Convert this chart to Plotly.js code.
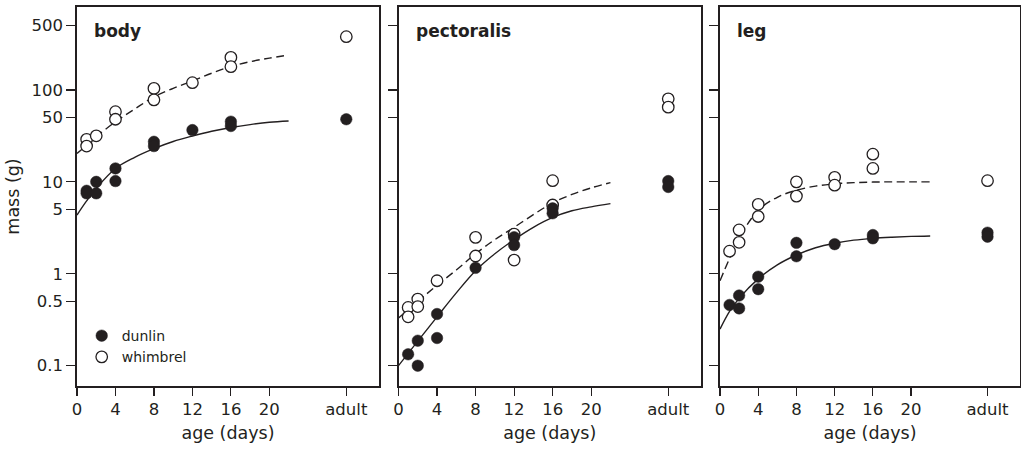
<!DOCTYPE html>
<html>
<head>
<meta charset="utf-8">
<script src="https://cdn.plot.ly/plotly-3.0.1.min.js"></script>
<style>html,body{margin:0;padding:0;background:#fff;}#chart{width:1021px;height:449px;}</style>
</head>
<body>
<div id="chart"></div>
<script>
// ---- data ----
const ADULT = 28; // position of the "adult" column on the age axis
const xTickVals = [0, 4, 8, 12, 16, 20, ADULT];
const xTickText = ['0', '4', '8', '12', '16', '20', 'adult'];
const yTickVals = [0.1, 0.5, 1, 5, 10, 50, 100, 500];
const yTickText = ['0.1', '0.5', '1', '5', '10', '50', '100', '500'];
const panelNames = ['body', 'pectoralis', 'leg'];

// body
const bodyDunlinX = [1, 1, 2, 2, 4, 4, 8, 8, 12, 16, 16, ADULT];
const bodyDunlinY = [8.0, 7.5, 10.0, 7.5, 14.0, 10.2, 27.3, 24.5, 36.6, 45.2, 40.5, 48];
const bodyWhimX = [1, 1, 2, 4, 4, 8, 8, 12, 16, 16, ADULT];
const bodyWhimY = [29, 24.5, 31.7, 58, 48, 104, 78, 120, 226, 179, 380];
const bodyFitDays = [0, 1, 2, 4, 6, 8, 10, 12, 14, 16, 18, 20, 22];
const bodyDunlinFit = [4.36, 6.2, 8.5, 14, 18.5, 23, 27.5, 31.5, 35.5, 39, 42, 44.5, 46];
const bodyWhimFit = [20.4, 25, 31, 45, 62, 84, 104, 125, 152, 180, 203, 222, 240];

// pectoralis
const pectDunlinX = [1, 2, 2, 4, 4, 8, 12, 12, 16, 16, ADULT, ADULT];
const pectDunlinY = [0.133, 0.187, 0.10, 0.365, 0.20, 1.16, 2.5, 2.05, 5.15, 4.55, 10.2, 8.8];
const pectWhimX = [1, 1, 2, 2, 4, 8, 8, 12, 12, 16, 16, ADULT, ADULT];
const pectWhimY = [0.43, 0.34, 0.53, 0.44, 0.84, 2.49, 1.56, 2.7, 1.41, 10.3, 5.6, 80, 65];
const pectFitDays = [0, 2, 4, 6, 8, 10, 12, 14, 16, 18, 20, 22];
const pectDunlinFit = [0.10, 0.185, 0.34, 0.62, 1.08, 1.65, 2.35, 3.2, 4.1, 4.85, 5.35, 5.8];
const pectWhimFit = [0.33, 0.5, 0.75, 1.1, 1.65, 2.35, 3.2, 4.4, 5.9, 7.3, 8.6, 9.8];

// leg
const legDunlinX = [1, 2, 2, 4, 4, 8, 8, 12, 16, 16, ADULT, ADULT];
const legDunlinY = [0.458, 0.58, 0.42, 0.93, 0.68, 2.17, 1.55, 2.1, 2.64, 2.43, 2.8, 2.53];
const legWhimX = [1, 2, 2, 4, 4, 8, 8, 12, 12, 16, 16, ADULT];
const legWhimY = [1.76, 3.0, 2.2, 5.7, 4.2, 10, 7.0, 11.2, 9.2, 20, 14, 10.3];
const legFitDays = [0, 1, 2, 4, 6, 8, 10, 12, 14, 16, 18, 20, 22];
const legDunlinFit = [0.25, 0.39, 0.54, 0.88, 1.25, 1.6, 1.92, 2.15, 2.32, 2.43, 2.5, 2.55, 2.58];
const legWhimFit = [0.84, 1.47, 2.45, 4.9, 6.8, 8.1, 9.0, 9.5, 9.8, 9.95, 10, 10, 10];

// ---- drawing ----
const INK = '#231f20';
const FONT = 'DejaVu Sans, Verdana, sans-serif';
const panels = [
  {dx: bodyDunlinX, dy: bodyDunlinY, wx: bodyWhimX, wy: bodyWhimY, fx: bodyFitDays, fd: bodyDunlinFit, fw: bodyWhimFit},
  {dx: pectDunlinX, dy: pectDunlinY, wx: pectWhimX, wy: pectWhimY, fx: pectFitDays, fd: pectDunlinFit, fw: pectWhimFit},
  {dx: legDunlinX, dy: legDunlinY, wx: legWhimX, wy: legWhimY, fx: legFitDays, fd: legDunlinFit, fw: legWhimFit}
];

const traces = [];
panels.forEach((p, i) => {
  const xa = i === 0 ? 'x' : 'x' + (i + 1);
  const ya = i === 0 ? 'y' : 'y' + (i + 1);
  traces.push({x: p.fx, y: p.fd, xaxis: xa, yaxis: ya, mode: 'lines', line: {color: INK, width: 1.4, shape: 'spline', smoothing: 1}, showlegend: false, hoverinfo: 'skip'});
  traces.push({x: p.fx, y: p.fw, xaxis: xa, yaxis: ya, mode: 'lines', line: {color: INK, width: 1.4, dash: '8px,4.5px', shape: 'spline', smoothing: 1}, showlegend: false, hoverinfo: 'skip'});
  traces.push({x: p.wx, y: p.wy, xaxis: xa, yaxis: ya, mode: 'markers', name: 'whimbrel', legendrank: 2,
    marker: {symbol: 'circle', size: 11.5, color: '#ffffff', line: {color: INK, width: 1.3}}, showlegend: i === 0});
  traces.push({x: p.dx, y: p.dy, xaxis: xa, yaxis: ya, mode: 'markers', name: 'dunlin', legendrank: 1,
    marker: {symbol: 'circle', size: 11.5, color: INK, line: {color: INK, width: 0.5}}, showlegend: i === 0});
});

const W = 943; // plot area width in px
const domains = [[0, 302 / W], [321.5 / W, 624 / W], [643 / W, 1]];
const yRange = [-1.221, 2.9025];

const layout = {
  width: 1021, height: 449,
  margin: {l: 77, r: 1, t: 7, b: 63},
  paper_bgcolor: '#ffffff', plot_bgcolor: '#ffffff',
  font: {family: FONT, color: INK, size: 16.5},
  showlegend: true,
  legend: {x: 0.005, xanchor: 'left', y: 0.174, yanchor: 'top', bgcolor: 'rgba(0,0,0,0)', borderwidth: 0,
    font: {family: FONT, size: 14, color: INK}, tracegroupgap: 0, traceorder: 'normal', itemwidth: 30},
  annotations: [],
  hovermode: false
};

panels.forEach((p, i) => {
  const sx = i === 0 ? '' : String(i + 1);
  layout['xaxis' + sx] = {
    domain: domains[i], anchor: 'y' + sx, range: [0, 31.4],
    tickmode: 'array', tickvals: xTickVals, ticktext: xTickText,
    ticks: 'outside', ticklen: 8, tickwidth: 1.2, tickcolor: INK,
    showline: true, linecolor: INK, linewidth: 1.6, mirror: true,
    showgrid: false, zeroline: false,
    tickfont: {family: FONT, size: 16.5, color: INK},
    title: {text: 'age (days)', font: {family: FONT, size: 17.5, color: INK}, standoff: 8}
  };
  layout['yaxis' + sx] = {
    domain: [0, 1], anchor: 'x' + sx, type: 'log', range: yRange,
    tickmode: 'array', tickvals: yTickVals, ticktext: yTickText,
    ticks: 'outside', ticklen: 9, tickwidth: 1.2, tickcolor: INK,
    showline: true, linecolor: INK, linewidth: 1.6, mirror: true,
    showgrid: false, zeroline: false, showticklabels: i === 0,
    tickfont: {family: FONT, size: 16.5, color: INK},
    title: i === 0 ? {text: 'mass (g)', font: {family: FONT, size: 17.5, color: INK}, standoff: 7} : {text: ''}
  };
  layout.annotations.push({
    text: '<b>' + panelNames[i] + '</b>', xref: 'x' + sx + ' domain', yref: 'y' + sx + ' domain',
    x: 15 / 302, y: (379 - 23.5) / 379, xanchor: 'left', yanchor: 'middle', showarrow: false,
    font: {family: FONT, size: 17, color: INK}
  });
});

Plotly.newPlot('chart', traces, layout, {staticPlot: true, displayModeBar: false});
</script>
</body>
</html>
